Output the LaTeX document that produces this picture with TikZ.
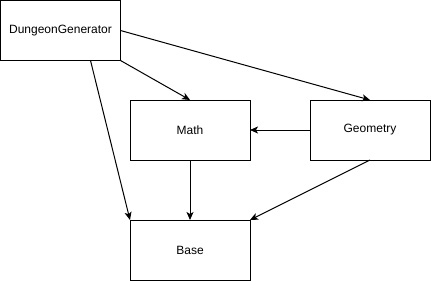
\documentclass[tikz,border=0pt]{standalone}
\usepackage{fontspec}
\setmainfont{Liberation Sans}
\usetikzlibrary{arrows.meta}

\begin{document}
\begin{tikzpicture}[
        x=1pt, y=-1pt,
        module/.style={draw, line width=1pt, minimum width=120pt, minimum height=60pt,
            inner sep=0pt, outer sep=0pt, font=\fontsize{12}{14}\selectfont},
        dep/.style={line width=1pt, -{Stealth[length=8pt, width=7pt, inset=2pt]}}
    ]
    \useasboundingbox (0,0) rectangle (431,281);

    % modules
    \node[module] (gen)  at (60.5,30.5) {DungeonGenerator};
    \node[module] (math) at (190,130)   {Math};
    \node[module] (geom) at (370,130)   {Geometry};
    \node[module] (base) at (190,250)   {Base};

    % dependencies
    \draw[dep] (gen.east) -- (geom.north);
    \draw[dep] (gen.south east) -- (math.north);
    \draw[dep] ([xshift=30pt]gen.south) -- (base.north west);
    \draw[dep] (geom.west) -- (math.east);
    \draw[dep] (math.south) -- (base.north);
    \draw[dep] (geom.south) -- (base.north east);
\end{tikzpicture}
\end{document}
